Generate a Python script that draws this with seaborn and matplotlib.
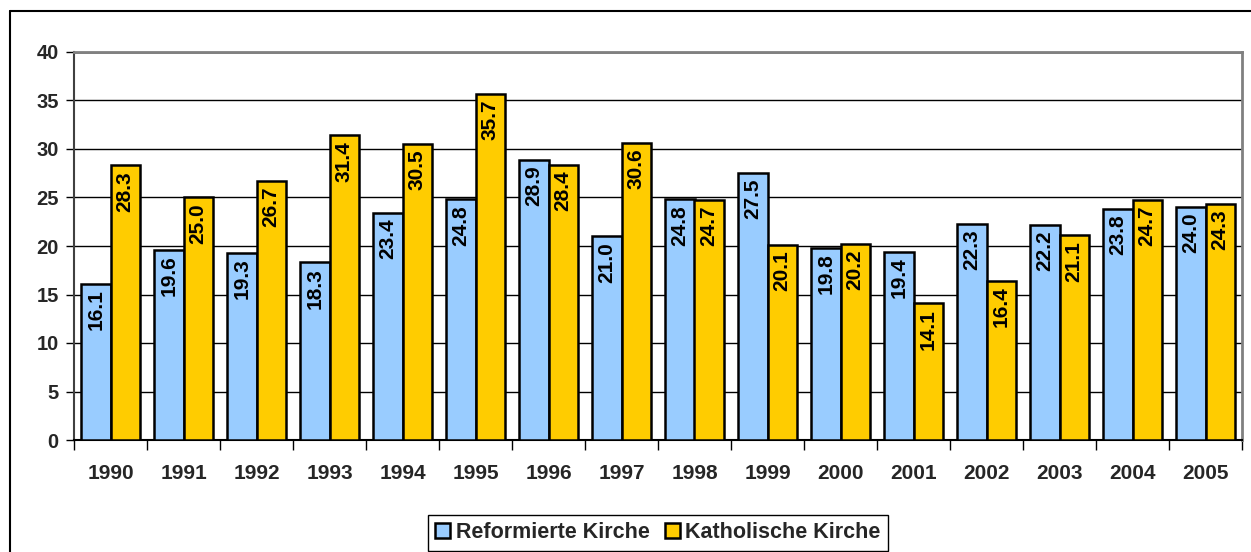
import matplotlib
matplotlib.use("Agg")
import matplotlib.pyplot as plt
import seaborn as sns
import pandas as pd
from matplotlib.patches import Rectangle
from matplotlib.lines import Line2D

years = ["1990", "1991", "1992", "1993", "1994", "1995", "1996", "1997",
         "1998", "1999", "2000", "2001", "2002", "2003", "2004", "2005"]
reformiert = [16.1, 19.6, 19.3, 18.3, 23.4, 24.8, 28.9, 21.0,
              24.8, 27.5, 19.8, 19.4, 22.3, 22.2, 23.8, 24.0]
katholisch = [28.3, 25.0, 26.7, 31.4, 30.5, 35.7, 28.4, 30.6,
              24.7, 20.1, 20.2, 14.1, 16.4, 21.1, 24.7, 24.3]
series_names = ["Reformierte Kirche", "Katholische Kirche"]
colors = ["#99CCFF", "#FFCC00"]

df = pd.DataFrame({
    "Jahr": years * 2,
    "Wert": reformiert + katholisch,
    "Kirche": [series_names[0]] * len(years) + [series_names[1]] * len(years),
})

sns.set_style("white")
plt.rcParams['font.family'] = ['Liberation Sans', 'DejaVu Sans']
plt.rcParams['font.weight'] = 'bold'

fig = plt.figure(figsize=(12.51, 5.52), dpi=100)
ax = fig.add_axes([74/1251, 1-440/552, (1242-74)/1251, (440-52)/552])

sns.barplot(data=df, x="Jahr", y="Wert", hue="Kirche", order=years,
            hue_order=series_names, palette=colors, saturation=1, width=0.8,
            edgecolor="black", linewidth=1.8, ax=ax, legend=True, zorder=3)

ax.set_ylim(0, 40)
ax.set_xlim(-0.5, len(years) - 0.5)
ax.set_yticks(range(0, 41, 5))
ax.set_ylabel("")
ax.set_xlabel("")

# grid
ax.yaxis.grid(True, color="black", linewidth=1.0, zorder=0)
ax.set_axisbelow(True)
glines = ax.get_ygridlines()
glines[-1].set_color("#808080")
glines[-1].set_linewidth(2)

for side in ["top", "right"]:
    ax.spines[side].set_visible(True)
    ax.spines[side].set_color("#808080")
    ax.spines[side].set_linewidth(2)
ax.spines["left"].set_color("#404040")
ax.spines["left"].set_linewidth(1.5)
ax.spines["bottom"].set_color("black")
ax.spines["bottom"].set_linewidth(1.5)

ax.tick_params(axis="y", which="major", direction="out", length=6, width=1,
               color="black", labelsize=14.5, pad=5, left=True)
ax.tick_params(axis="x", which="major", length=0, labelsize=15, pad=17)
ax.set_xticks([i - 0.5 for i in range(len(years) + 1)], minor=True)
ax.tick_params(axis="x", which="minor", direction="out", length=7, width=1,
               color="black", bottom=True)
for lab in ax.get_xticklabels() + ax.get_yticklabels():
    lab.set_fontweight("bold")

# value labels
for cont in ax.containers:
    texts = ax.bar_label(cont, fmt="%.1f", rotation=90, label_type="edge",
                         padding=-4, fontsize=15, fontweight="bold", color="black")
    for t in texts:
        t.set_va("top")
        t.set_ha("center")

# legend
handles = [Rectangle((0, 0), 1, 1, facecolor=c, edgecolor="black", linewidth=1.8)
           for c in colors]
leg = ax.legend(handles, series_names, loc="lower center",
                bbox_to_anchor=(0.5, -0.285),
                ncol=2, frameon=True, fancybox=False, framealpha=1,
                edgecolor="black", prop={"weight": "bold", "size": 15.5},
                handlelength=0.7, handleheight=0.7, handletextpad=0.25,
                columnspacing=0.7, borderpad=0.35, borderaxespad=0)
leg.get_frame().set_linewidth(1)

# figure border (left + top)
fig.add_artist(Line2D([10/1251, 10/1251], [0, 1-11/552], color="black", linewidth=1.5,
                      transform=fig.transFigure))
fig.add_artist(Line2D([10/1251, 1], [1-11/552, 1-11/552], color="black", linewidth=1.5,
                      transform=fig.transFigure))

fig.savefig("out.png", dpi=100)
